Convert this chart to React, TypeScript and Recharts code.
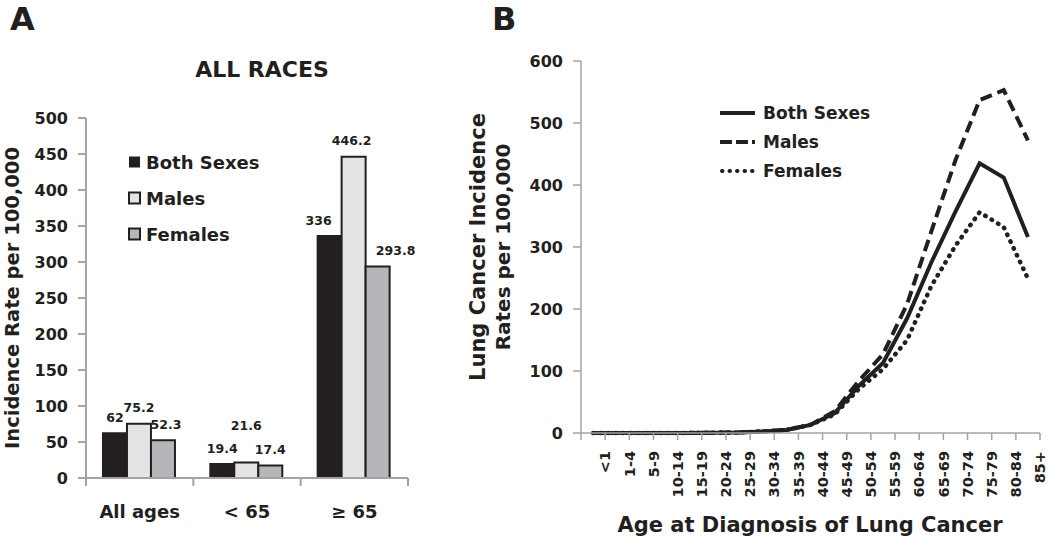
import React from 'react';
import { BarChart, Bar, LineChart, Line, XAxis, YAxis, Legend, LabelList } from 'recharts';

// ---------- Panel A data ----------
const groupsA = ['All ages', '< 65', '\u2265 65'];
const bothA = [62, 19.4, 336];
const malesA = [75.2, 21.6, 446.2];
const femalesA = [52.3, 17.4, 293.8];
const ticksA = [0, 50, 100, 150, 200, 250, 300, 350, 400, 450, 500];

// ---------- Panel B data ----------
const agesB = ['<1', '1-4', '5-9', '10-14', '15-19', '20-24', '25-29', '30-34', '35-39', '40-44', '45-49', '50-54', '55-59', '60-64', '65-69', '70-74', '75-79', '80-84', '85+'];
const bothB = [0, 0, 0, 0, 0.2, 0.5, 1, 2.5, 5, 13, 32, 76, 113, 185, 275, 357, 435, 412, 316];
const malesB = [0, 0, 0, 0, 0.2, 0.5, 1, 2.5, 5, 13, 35, 84, 127, 208, 325, 440, 537, 553, 472];
const femalesB = [0, 0, 0, 0, 0.2, 0.5, 1, 2.5, 5, 13, 30, 71, 103, 150, 237, 302, 356, 332, 249];
const ticksB = [0, 100, 200, 300, 400, 500, 600];

const seriesOrder = ['both', 'males', 'females'];

const dataA = groupsA.map((g, i) => ({ group: g, both: bothA[i], males: malesA[i], females: femalesA[i] }));
const dataB = agesB.map((a, i) => ({ age: a, both: bothB[i], males: malesB[i], females: femalesB[i] }));

// ---------- styles ----------
const FONT = '"DejaVu Sans", "Liberation Sans", Arial, sans-serif';
const INK = '#231f20';
const AXIS = '#a3a3a3';
const BAR_FILL: Record<string, string> = { both: '#231f20', males: '#e4e4e5', females: '#b5b6b9' };
const LINE_STYLE: Record<string, { dash?: string; cap: 'round' | 'butt'; legDash?: string }> = {
  both: { cap: 'butt' },
  males: { dash: '12 6', cap: 'butt', legDash: '12 4' },
  females: { dash: '0.5 7', cap: 'round', legDash: '0.5 7' },
};

// label nudges (px) for bar value labels, per series
const nudgeX: Record<string, number[]> = { both: [0, 0, -11], males: [0, 0, -2], females: [3, 0, 18] };
const nudgeY: Record<string, number[]> = { both: [0, 0, 0], males: [0, -21, 0], females: [0, 0, 0] };

const sortPayload = (payload: any[]) =>
  [...payload].sort((a, b) => seriesOrder.indexOf(String(a.dataKey)) - seriesOrder.indexOf(String(b.dataKey)));

const makeBarLabel = (key: string) => (props: any) => {
  const { x, y, width, value, index } = props;
  const cx = Number(x) + Number(width) / 2 + (nudgeX[key][index] || 0);
  const cy = Number(y) - 16 + (nudgeY[key][index] || 0);
  return (
    <text x={cx} y={cy} textAnchor="middle" dominantBaseline="central" fontFamily={FONT} fontWeight="bold" fontSize={12.5} fill={INK}>
      {String(value)}
    </text>
  );
};

const TickA = (props: any) => {
  const { x, y, payload, index, visibleTicksCount } = props;
  const half = payload && typeof payload.offset === 'number' ? payload.offset : 0;
  return (
    <g>
      <line x1={x - half} x2={x - half} y1={y} y2={y + 8} stroke={AXIS} strokeWidth={2} />
      {index === visibleTicksCount - 1 && <line x1={x + half} x2={x + half} y1={y} y2={y + 8} stroke={AXIS} strokeWidth={2} />}
      <text x={x} y={y + 33} textAnchor="middle" dominantBaseline="central" fontFamily={FONT} fontWeight="bold" fontSize={18} fill={INK}>
        {payload.value}
      </text>
    </g>
  );
};

const TickB = (props: any) => {
  const { x, y, payload, index } = props;
  const half = payload && typeof payload.offset === 'number' ? payload.offset : 0;
  const r = x + half;
  const ty = y + 18;
  return (
    <g>
      {index === 0 && <line x1={x - half} x2={x - half} y1={y} y2={y + 7} stroke={AXIS} strokeWidth={1.5} />}
      <line x1={r} x2={r} y1={y} y2={y + 7} stroke={AXIS} strokeWidth={1.5} />
      <text x={r} y={ty} transform={`rotate(-90 ${r} ${ty})`} textAnchor="end" dy="0.36em" fontFamily={FONT} fontWeight="bold" fontSize={14.5} fill={INK}>
        {payload.value}
      </text>
    </g>
  );
};

const LegendA = (props: any) => {
  const payload = sortPayload(props.payload || []);
  return (
    <svg width={150} height={90} style={{ overflow: 'visible' }}>
      {payload.map((p: any, i: number) => {
        const cy = 6 + i * 36;
        const key = String(p.dataKey);
        return (
          <g key={key}>
            <rect x={1} y={cy - 5.5} width={11} height={11} fill={BAR_FILL[key]} stroke={INK} strokeWidth={key === 'both' ? 0 : 2} />
            <text x={18} y={cy} dominantBaseline="central" fontFamily={FONT} fontWeight="bold" fontSize={18} fill={INK}>
              {p.value}
            </text>
          </g>
        );
      })}
    </svg>
  );
};

const LegendB = (props: any) => {
  const payload = sortPayload(props.payload || []);
  return (
    <svg width={170} height={75} style={{ overflow: 'visible' }}>
      {payload.map((p: any, i: number) => {
        const cy = 10 + i * 29;
        const key = String(p.dataKey);
        const st = LINE_STYLE[key];
        return (
          <g key={key}>
            <line x1={st.cap === 'round' ? 2 : 0} x2={35} y1={cy} y2={cy} stroke={INK} strokeWidth={4} strokeDasharray={st.legDash} strokeLinecap={st.cap} />
            <text x={43} y={cy} dominantBaseline="central" fontFamily={FONT} fontWeight="bold" fontSize={17} fill={INK}>
              {p.value}
            </text>
          </g>
        );
      })}
    </svg>
  );
};

export default function App() {
  const tickStyle = { fontFamily: FONT, fontWeight: 'bold', fontSize: 16, fill: INK };
  return (
    <div style={{ position: 'fixed', left: 0, top: 0, width: 1050, height: 539, background: '#ffffff', overflow: 'hidden' }}>
      {/* Panel A */}
      <div style={{ position: 'absolute', left: 0, top: 0 }}>
        <BarChart width={480} height={539} data={dataA} margin={{ top: 118, right: 72, bottom: 21, left: 26 }} barCategoryGap="15.8%" barGap={0}>
          <XAxis dataKey="group" axisLine={{ stroke: AXIS, strokeWidth: 2 }} tickLine={false} tickSize={0} tickMargin={0} height={40} interval={0} tick={<TickA />} />
          <YAxis domain={[0, 500]} ticks={ticksA} width={60} axisLine={{ stroke: AXIS, strokeWidth: 2 }} tickLine={{ stroke: AXIS, strokeWidth: 2 }} tickSize={8} tickMargin={10} tick={tickStyle} interval={0} />
          <Legend layout="vertical" align="center" verticalAlign="middle" wrapperStyle={{ left: 128, top: 156, width: 150 }} content={<LegendA />} />
          <Bar dataKey="both" name="Both Sexes" fill={BAR_FILL.both} stroke={INK} strokeWidth={2} isAnimationActive={false}>
            <LabelList dataKey="both" content={makeBarLabel('both')} />
          </Bar>
          <Bar dataKey="males" name="Males" fill={BAR_FILL.males} stroke={INK} strokeWidth={2} isAnimationActive={false}>
            <LabelList dataKey="males" content={makeBarLabel('males')} />
          </Bar>
          <Bar dataKey="females" name="Females" fill={BAR_FILL.females} stroke={INK} strokeWidth={2} isAnimationActive={false}>
            <LabelList dataKey="females" content={makeBarLabel('females')} />
          </Bar>
        </BarChart>
      </div>

      {/* Panel B */}
      <div style={{ position: 'absolute', left: 480, top: 0 }}>
        <LineChart width={570} height={539} data={dataB} margin={{ top: 61, right: 10, bottom: 26, left: 31 }}>
          <XAxis dataKey="age" scale="band" axisLine={{ stroke: AXIS, strokeWidth: 1.5 }} tickLine={false} tickSize={0} tickMargin={0} height={80} interval={0} tick={<TickB />} />
          <YAxis domain={[0, 600]} ticks={ticksB} width={70} axisLine={{ stroke: AXIS, strokeWidth: 1.5 }} tickLine={{ stroke: AXIS, strokeWidth: 1.5 }} tickSize={8} tickMargin={10} tick={tickStyle} interval={0} />
          <Legend layout="vertical" align="center" verticalAlign="middle" wrapperStyle={{ left: 240, top: 103, width: 170 }} content={<LegendB />} />
          <Line type="linear" dataKey="both" name="Both Sexes" stroke={INK} strokeWidth={4} dot={false} activeDot={false} strokeLinejoin="miter" isAnimationActive={false} />
          <Line type="linear" dataKey="males" name="Males" stroke={INK} strokeWidth={4} strokeDasharray={LINE_STYLE.males.dash} dot={false} activeDot={false} isAnimationActive={false} />
          <Line type="linear" dataKey="females" name="Females" stroke={INK} strokeWidth={4.5} strokeDasharray={LINE_STYLE.females.dash} strokeLinecap="round" dot={false} activeDot={false} isAnimationActive={false} />
        </LineChart>
      </div>

      {/* Titles */}
      <svg width={1050} height={539} style={{ position: 'absolute', left: 0, top: 0, pointerEvents: 'none' }}>
        <text x={10} y={30} fontFamily={FONT} fontWeight="bold" fontSize={32} fill={INK}>A</text>
        <text x={492} y={30} fontFamily={FONT} fontWeight="bold" fontSize={32} fill={INK}>B</text>
        <text x={262} y={77} textAnchor="middle" fontFamily={FONT} fontWeight="bold" fontSize={22} fill={INK}>ALL RACES</text>
        <text x={12} y={298} transform="rotate(-90 12 298)" textAnchor="middle" dy="0.36em" fontFamily={FONT} fontWeight="bold" fontSize={19.5} fill={INK}>Incidence Rate per 100,000</text>
        <text x={477} y={247} transform="rotate(-90 477 247)" textAnchor="middle" dy="0.36em" fontFamily={FONT} fontWeight="bold" fontSize={21} fill={INK}>Lung Cancer Incidence</text>
        <text x={503} y={247} transform="rotate(-90 503 247)" textAnchor="middle" dy="0.36em" fontFamily={FONT} fontWeight="bold" fontSize={20} fill={INK}>Rates per 100,000</text>
        <text x={810} y={532} textAnchor="middle" fontFamily={FONT} fontWeight="bold" fontSize={21} fill={INK}>Age at Diagnosis of Lung Cancer</text>
      </svg>
    </div>
  );
}
